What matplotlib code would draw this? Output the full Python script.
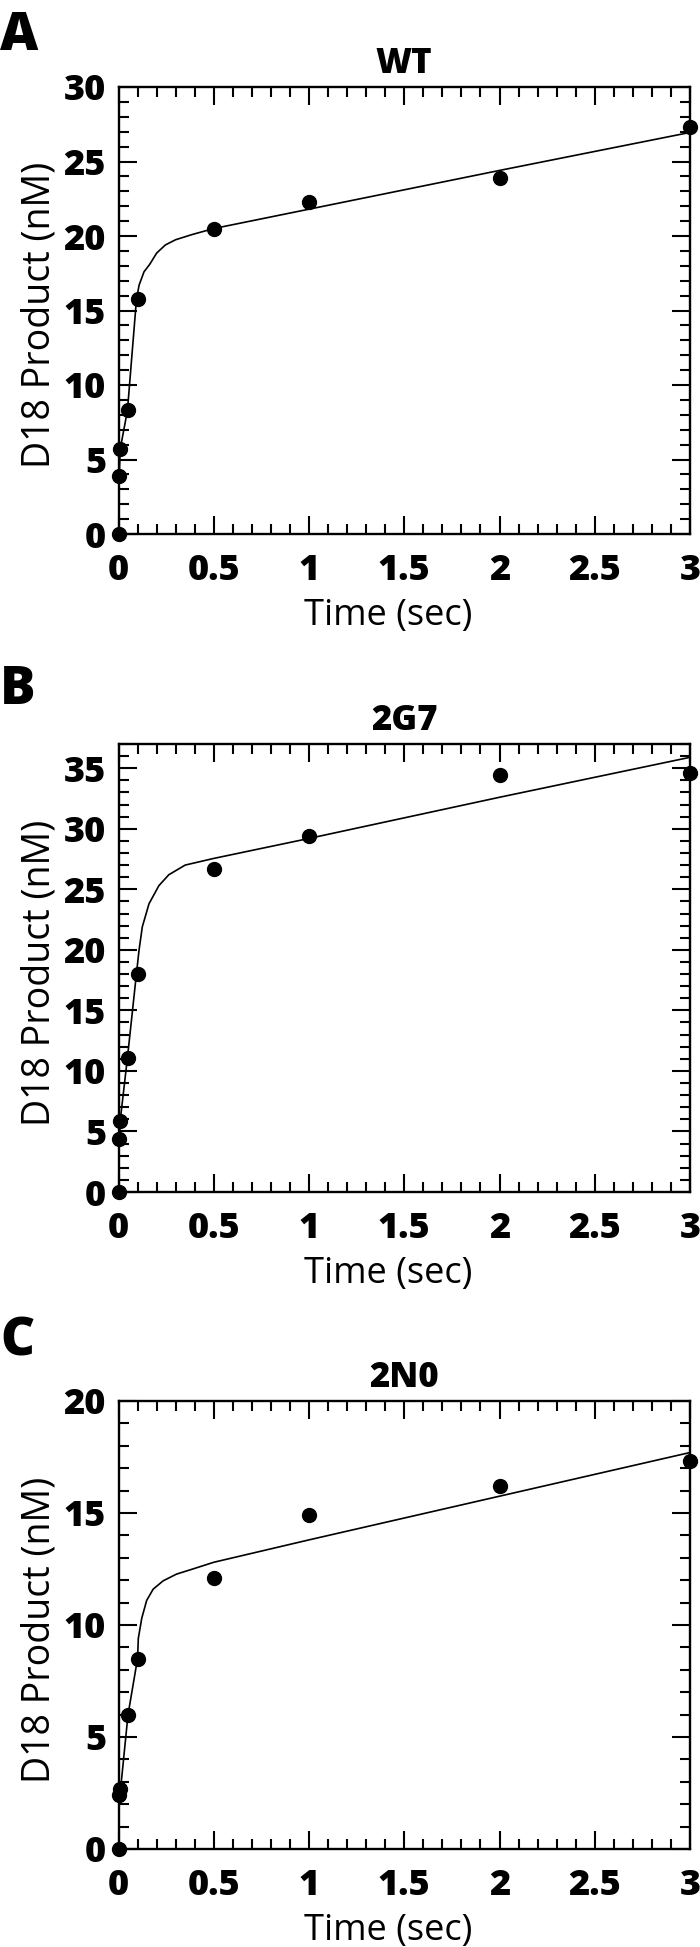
import matplotlib
matplotlib.use('Agg')
import matplotlib.pyplot as plt
from matplotlib.ticker import MultipleLocator, FuncFormatter

plt.rcParams['font.family'] = ['Open Sans', 'DejaVu Sans']

# measured time points (sec)
t_data = [0, 0.005, 0.01, 0.05, 0.1, 0.5, 1, 2, 3]

# D18 product (nM)
wt_data = [0, 3.9, 5.7, 8.3, 15.8, 20.5, 22.3, 23.9, 27.3]
g7_data = [0, 4.4, 5.9, 11.1, 18.0, 26.7, 29.4, 34.4, 34.6]
n0_data = [0, 2.4, 2.7, 6.0, 8.5, 12.1, 14.9, 16.2, 17.3]

# fitted curves, points
wt_fit_t = [0, 0.0035, 0.009, 0.047, 0.094, 0.108, 0.134, 0.164, 0.2, 0.246, 0.3, 0.387, 0.5, 1, 2, 3]
wt_fit_y = [0, 3.8, 5.7, 8.3, 15.7, 16.7, 17.6, 18.1, 18.85, 19.4, 19.75, 20.1, 20.5, 21.8, 24.4, 26.95]
g7_fit_t = [0, 0.004, 0.009, 0.047, 0.094, 0.108, 0.125, 0.16, 0.212, 0.264, 0.35, 0.5, 1, 2, 3]
g7_fit_y = [0, 4.2, 5.9, 11.1, 18.0, 20.0, 21.9, 23.8, 25.3, 26.2, 27.0, 27.55, 29.2, 32.6, 35.9]
n0_fit_t = [0, 0.004, 0.01, 0.05, 0.1, 0.104, 0.122, 0.148, 0.182, 0.234, 0.304, 0.39, 0.5, 1, 2, 3]
n0_fit_y = [0, 2.1, 2.6, 6.0, 8.5, 9.4, 10.3, 11.1, 11.6, 11.97, 12.27, 12.5, 12.8, 13.8, 15.75, 17.7]

letters = ['A', 'B', 'C']
titles = ['WT', '2G7', '2N0']
ymax = [30, 37, 20]

W, H = 700, 1947
fig = plt.figure(figsize=(W / 100, H / 100), dpi=100)

# axes boxes in pixels: (top, bottom)
boxes = [(87, 534), (744, 1192), (1401, 1849)]
letter_top = [10, 664, 1316]
left, right = 118.5, 690

datas = [wt_data, g7_data, n0_data]
fits = [(wt_fit_t, wt_fit_y), (g7_fit_t, g7_fit_y), (n0_fit_t, n0_fit_y)]

fmt = FuncFormatter(lambda v, p: '%g' % v)

for i in range(3):
    top, bot = boxes[i]
    ax = fig.add_axes([left / W, 1 - bot / H, (right - left) / W, (bot - top) / H])

    ax.plot(fits[i][0], fits[i][1], color='black', lw=1.2, zorder=2)
    ax.plot(t_data, datas[i], 'o', color='black', ms=10, clip_on=False, zorder=5)

    ax.set_xlim(0, 3)
    ax.set_ylim(0, ymax[i])
    ax.xaxis.set_major_locator(MultipleLocator(0.5))
    ax.xaxis.set_minor_locator(MultipleLocator(0.1))
    ax.yaxis.set_major_locator(MultipleLocator(5))
    ax.yaxis.set_minor_locator(MultipleLocator(1))
    ax.xaxis.set_major_formatter(fmt)
    ax.yaxis.set_major_formatter(fmt)

    ax.tick_params(which='both', direction='in', top=True, right=True, width=1.5)
    ax.tick_params(which='major', length=13, labelsize=26)
    ax.tick_params(which='minor', length=7)
    ax.tick_params(axis='x', which='major', pad=13.5)
    ax.tick_params(axis='y', which='major', pad=9)
    for lab in ax.get_xticklabels() + ax.get_yticklabels():
        lab.set_fontweight('heavy')
    for sp in ax.spines.values():
        sp.set_linewidth(1.7)

    ax.set_title(titles[i], fontsize=25, fontweight='heavy', pad=10)
    ax.set_xlabel('Time (sec)', fontsize=26)
    ax.set_ylabel('D18 Product (nM)', fontsize=27)
    ax.xaxis.set_label_coords(0.472, -0.143)
    ax.yaxis.set_label_coords(-0.105, 0.49)

    fig.text(0.0, 1 - letter_top[i] / H, letters[i], fontsize=38, fontweight='heavy',
             ha='left', va='top')

fig.savefig('out.png', dpi=100)
